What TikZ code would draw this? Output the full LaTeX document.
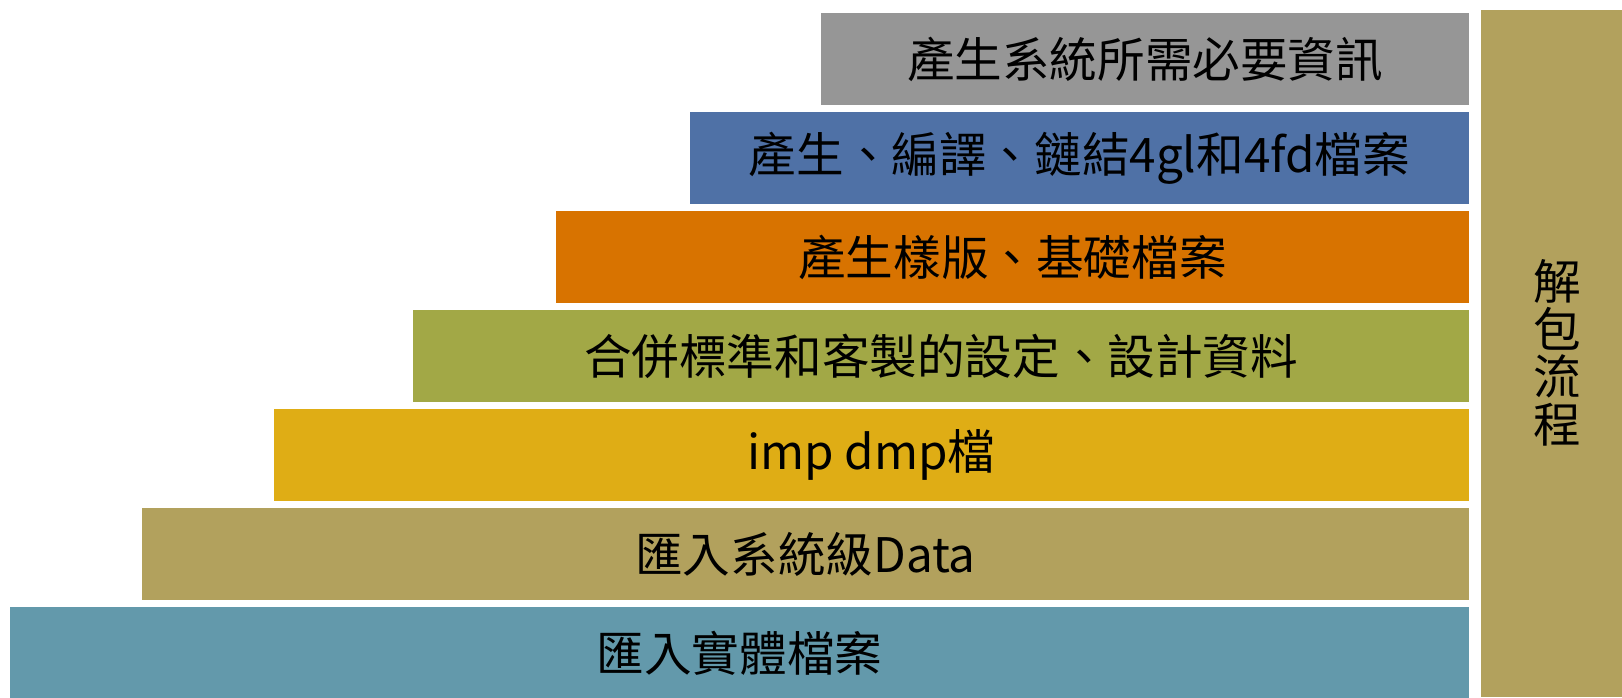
\documentclass[tikz,border=0pt]{standalone}
\usepackage{fontspec}
\setmainfont{Noto Sans CJK TC}
\usetikzlibrary{positioning}
\definecolor{bargray}{HTML}{969696}
\definecolor{barblue}{HTML}{4F71A6}
\definecolor{barorange}{HTML}{D87300}
\definecolor{bargreen}{HTML}{A2A846}
\definecolor{baryellow}{HTML}{DFAD15}
\definecolor{bartan}{HTML}{B2A15D}
\definecolor{barteal}{HTML}{6399AB}
\tikzset{every node/.style={font=\fontsize{47.6}{47.6}\selectfont}}

\begin{document}
\begin{tikzpicture}[x=1pt, y=-1pt]
  \tikzstyle{bar} = [rectangle, minimum height=92pt, inner sep=0pt, outer sep=0pt, text centered, text=black]
  \tikzstyle{side} = [rectangle, minimum width=141pt, minimum height=687pt, inner sep=0pt, outer sep=0pt, fill=bartan]
  \useasboundingbox (0,0) rectangle (1622,697);
  \fill[white] (0,0) rectangle (1622,697);
  \node (info) [bar, fill=bargray, minimum width=648pt, anchor=north east] at (1469,13) {產生系統所需必要資訊};
  \node (compile) [bar, fill=barblue, minimum width=779pt, below=7pt of info.south east, anchor=north east] {產生、編譯、鏈結4gl和4fd檔案};
  \node (template) [bar, fill=barorange, minimum width=913pt, below=7pt of compile.south east, anchor=north east] {產生樣版、基礎檔案};
  \node (merge) [bar, fill=bargreen, minimum width=1056pt, below=7pt of template.south east, anchor=north east] {合併標準和客製的設定、設計資料};
  \node (dump) [bar, fill=baryellow, minimum width=1195pt, below=7pt of merge.south east, anchor=north east] {imp dmp檔};
  \node (sysdata) [bar, fill=bartan, minimum width=1327pt, below=7pt of dump.south east, anchor=north east] {匯入系統級Data};
  \node (entity) [bar, fill=barteal, minimum width=1459pt, below=7pt of sysdata.south east, anchor=north east] {匯入實體檔案};
  \node (unpack) [side, anchor=north west] at (1481,10) {};
  \node (title) [align=center, inner sep=0pt] at (1557,353) {解\\包\\流\\程};
\end{tikzpicture}
\end{document}
